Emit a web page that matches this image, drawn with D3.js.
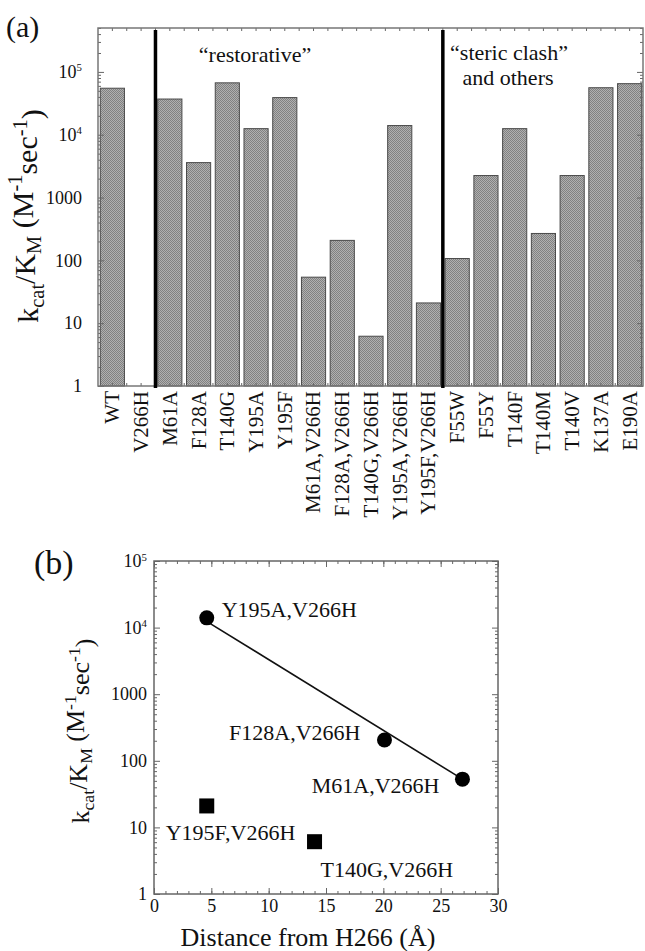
<!DOCTYPE html>
<html>
<head>
<meta charset="utf-8">
<script src="https://cdn.jsdelivr.net/npm/d3@7"></script>
<style>
    body { margin: 0; background: #fff; }
    text { font-family: "Liberation Serif", "DejaVu Serif", serif; fill: #111; }
</style>
</head>
<body>
<svg></svg>
<script>
// panel (a) data
var mutants = ["WT", "V266H", "M61A", "F128A", "T140G", "Y195A", "Y195F",
    "M61A,V266H", "F128A,V266H", "T140G,V266H", "Y195A,V266H", "Y195F,V266H",
    "F55W", "F55Y", "T140F", "T140M", "T140V", "K137A", "E190A"];
var kcatKm = [55000, null, 37000, 3600, 67000, 12500, 39000,
    54, 208, 6.2, 14000, 21,
    107, 2240, 12500, 268, 2240, 56000, 65000];
var groupStarts = ["M61A", "F55W"];
var decadesA = [1, 10, 100, 1000, 10000, 100000];

// panel (b) data
var circleNames = ["Y195A,V266H", "F128A,V266H", "M61A,V266H"];
var circleDist = [4.6, 20.1, 26.9];
var circleRate = [14000, 205, 53];
var squareNames = ["Y195F,V266H", "T140G,V266H"];
var squareDist = [4.6, 14.0];
var squareRate = [21, 6.1];
var fitDist = [4.8, 26.9];
var fitRate = [11800, 53];
var decadesB = [1, 10, 100, 1000, 10000, 100000];
var distTicks = [0, 5, 10, 15, 20, 25, 30];

var svgWidth = 645;
var svgHeight = 951;

var svg =
    d3.select("svg")
    .attr("width", svgWidth)
    .attr("height", svgHeight)
    .attr("font-family", "Liberation Serif, serif");

var defs = svg.append("defs");
var pat = defs.append("pattern")
    .attr("id", "dots")
    .attr("width", 2)
    .attr("height", 2)
    .attr("patternUnits", "userSpaceOnUse");
pat.append("rect").attr("width", 2).attr("height", 2).attr("fill", "#b0b0b0");
pat.append("rect").attr("width", 1).attr("height", 1).attr("fill", "#818181");
pat.append("rect").attr("x", 1).attr("y", 1).attr("width", 1).attr("height", 1).attr("fill", "#818181");

function minorTicks(lo, hi) {
    var out = [];
    for (var d = lo; d < hi; d *= 10)
        for (var k = 2; k <= 9; k++)
            if (d * k <= hi) out.push(d * k);
    return out;
}

function powLabels(sel) {
    sel.selectAll("text").each(function (d) {
        var p = Math.round(Math.log10(d));
        if (p >= 4) {
            var t = d3.select(this).text("10");
            t.append("tspan").attr("dy", "-0.62em").attr("font-size", "0.6em").text(p);
        }
    });
}

function styleAxis(g, size) {
    g.select(".domain").remove();
    g.selectAll(".tick line").attr("stroke", "#666").attr("stroke-width", 1);
    g.selectAll("text")
        .attr("font-family", "Liberation Serif, serif")
        .attr("font-size", size)
        .attr("fill", "#111");
}

// ---------- panel (a) ----------
var xA = d3.scaleBand().domain(mutants).range([98, 644]).paddingInner(0.16).paddingOuter(0.08);
var yA = d3.scaleLog().domain([1, 500000]).range([386, 28]);

var gA = svg.append("g");

gA.selectAll("rect.bar")
    .data(mutants.map(function (m, i) { return { name: m, v: kcatKm[i] }; }).filter(function (d) { return d.v != null; }))
    .enter().append("rect")
    .attr("class", "bar")
    .attr("x", function (d) { return xA(d.name); })
    .attr("width", xA.bandwidth())
    .attr("y", function (d) { return yA(d.v); })
    .attr("height", function (d) { return yA(1) - yA(d.v); })
    .attr("fill", "url(#dots)")
    .attr("stroke", "#4a4a4a")
    .attr("stroke-width", 1);

var halfStep = xA.step() * xA.paddingInner() / 2;
var bandTicks = [];
mutants.forEach(function (m, i) {
    bandTicks.push(xA(m) - halfStep);
    bandTicks.push(xA(m) + xA.bandwidth() / 2);
});

[[386, -3], [28, 3]].forEach(function (s) {
    gA.selectAll(null)
        .data(bandTicks.slice(1))
        .enter().append("line")
        .attr("x1", function (d) { return d; })
        .attr("x2", function (d) { return d; })
        .attr("y1", s[0])
        .attr("y2", s[0] + s[1])
        .attr("stroke", "#666");
});

gA.append("g")
    .call(d3.axisLeft(yA).tickValues(decadesA).tickSizeInner(-6).tickSizeOuter(0).tickPadding(16).tickFormat(d3.format("d")))
    .attr("transform", "translate(98,0)")
    .call(styleAxis, 18)
    .call(powLabels);
gA.append("g")
    .call(d3.axisLeft(yA).tickValues(minorTicks(1, 500000)).tickSizeInner(-3).tickSizeOuter(0).tickFormat(""))
    .attr("transform", "translate(98,0)")
    .call(styleAxis, 18);
gA.append("g")
    .call(d3.axisRight(yA).tickValues(decadesA).tickSizeInner(-6).tickSizeOuter(0).tickFormat(""))
    .attr("transform", "translate(643,0)")
    .call(styleAxis, 18);
gA.append("g")
    .call(d3.axisRight(yA).tickValues(minorTicks(1, 500000)).tickSizeInner(-3).tickSizeOuter(0).tickFormat(""))
    .attr("transform", "translate(643,0)")
    .call(styleAxis, 18);

gA.append("rect")
    .attr("x", 98).attr("y", 28)
    .attr("width", 545).attr("height", 358)
    .attr("fill", "none")
    .attr("stroke", "#777")
    .attr("stroke-width", 1.5);

gA.selectAll("line.group")
    .data(groupStarts)
    .enter().append("line")
    .attr("class", "group")
    .attr("x1", function (d) { return xA(d) - halfStep; })
    .attr("x2", function (d) { return xA(d) - halfStep; })
    .attr("y1", 30)
    .attr("y2", 388)
    .attr("stroke", "#000")
    .attr("stroke-width", 3.5);

gA.selectAll("text.cat")
    .data(mutants)
    .enter().append("text")
    .attr("class", "cat")
    .attr("transform", function (d) { return "translate(" + (xA(d) + xA.bandwidth() / 2) + ",391) rotate(-90)"; })
    .attr("text-anchor", "end")
    .attr("dy", "0.33em")
    .attr("font-size", 21)
    .text(function (d) { return d; });

gA.append("text").attr("x", 255).attr("y", 62).attr("text-anchor", "middle").attr("font-size", 22).text("\u201Crestorative\u201D");
gA.append("text").attr("x", 509).attr("y", 60).attr("text-anchor", "middle").attr("font-size", 22).text("\u201Csteric clash\u201D");
gA.append("text").attr("x", 508).attr("y", 85).attr("text-anchor", "middle").attr("font-size", 22).text("and others");

gA.append("text").attr("x", 6).attr("y", 37).attr("font-size", 30).text("(a)");

function yTitle(g, x, y, size) {
    var t = g.append("text")
        .attr("transform", "translate(" + x + "," + y + ") rotate(-90)")
        .attr("text-anchor", "middle")
        .attr("font-size", size);
    t.append("tspan").text("k");
    t.append("tspan").attr("font-size", "0.68em").attr("dy", "0.28em").text("cat");
    t.append("tspan").attr("dy", "-0.28em").text("/K");
    t.append("tspan").attr("font-size", "0.68em").attr("dy", "0.28em").text("M");
    t.append("tspan").attr("dy", "-0.28em").text(" (M");
    t.append("tspan").attr("font-size", "0.68em").attr("dy", "-0.5em").text("-1");
    t.append("tspan").attr("dy", "0.5em").text("sec");
    t.append("tspan").attr("font-size", "0.68em").attr("dy", "-0.5em").text("-1");
    t.append("tspan").attr("dy", "0.5em").text(")");
}

yTitle(gA, 38, 216, 30);

// ---------- panel (b) ----------
var xB = d3.scaleLinear().domain([0, 30]).range([154, 498]);
var yB = d3.scaleLog().domain([1, 100000]).range([894, 561]);

var gB = svg.append("g");

gB.append("g")
    .attr("transform", "translate(0,894)")
    .call(d3.axisBottom(xB).tickValues(distTicks).tickSizeInner(-6).tickSizeOuter(0).tickPadding(5))
    .call(styleAxis, 18);
gB.append("g")
    .attr("transform", "translate(0,894)")
    .call(d3.axisBottom(xB).ticks(30).tickSizeInner(-3).tickSizeOuter(0).tickFormat(""))
    .call(styleAxis, 18);
gB.append("g")
    .attr("transform", "translate(0,561)")
    .call(d3.axisTop(xB).tickValues(distTicks).tickSizeInner(-6).tickSizeOuter(0).tickFormat(""))
    .call(styleAxis, 18);
gB.append("g")
    .attr("transform", "translate(0,561)")
    .call(d3.axisTop(xB).ticks(30).tickSizeInner(-3).tickSizeOuter(0).tickFormat(""))
    .call(styleAxis, 18);

gB.append("g")
    .attr("transform", "translate(154,0)")
    .call(d3.axisLeft(yB).tickValues(decadesB).tickSizeInner(-6).tickSizeOuter(0).tickPadding(7).tickFormat(d3.format("d")))
    .call(styleAxis, 18)
    .call(powLabels);
gB.append("g")
    .attr("transform", "translate(154,0)")
    .call(d3.axisLeft(yB).tickValues(minorTicks(1, 100000)).tickSizeInner(-3).tickSizeOuter(0).tickFormat(""))
    .call(styleAxis, 18);
gB.append("g")
    .attr("transform", "translate(498,0)")
    .call(d3.axisRight(yB).tickValues(decadesB).tickSizeInner(-6).tickSizeOuter(0).tickFormat(""))
    .call(styleAxis, 18);
gB.append("g")
    .attr("transform", "translate(498,0)")
    .call(d3.axisRight(yB).tickValues(minorTicks(1, 100000)).tickSizeInner(-3).tickSizeOuter(0).tickFormat(""))
    .call(styleAxis, 18);

gB.append("rect")
    .attr("x", 154).attr("y", 561)
    .attr("width", 344).attr("height", 333)
    .attr("fill", "none")
    .attr("stroke", "#666")
    .attr("stroke-width", 1.5);

gB.append("path")
    .datum(fitDist.map(function (d, i) { return [d, fitRate[i]]; }))
    .attr("d", d3.line().x(function (d) { return xB(d[0]); }).y(function (d) { return yB(d[1]); }))
    .attr("stroke", "#111")
    .attr("stroke-width", 1.6)
    .attr("fill", "none");

gB.selectAll("circle.pt")
    .data(circleDist)
    .enter().append("circle")
    .attr("class", "pt")
    .attr("cx", function (d) { return xB(d); })
    .attr("cy", function (d, i) { return yB(circleRate[i]); })
    .attr("r", 7.5)
    .attr("fill", "#000");

gB.selectAll("rect.pt")
    .data(squareDist)
    .enter().append("rect")
    .attr("class", "pt")
    .attr("x", function (d) { return xB(d) - 7.5; })
    .attr("y", function (d, i) { return yB(squareRate[i]) - 7.5; })
    .attr("width", 15)
    .attr("height", 15)
    .attr("fill", "#000");

// label placement relative to each marker: [dx, dy, anchor]
var circleLabelPos = [[15, -1, "start"], [-24, 0, "end"], [-23, 14, "end"]];
var squareLabelPos = [[-41, 34, "start"], [6, 35, "start"]];

gB.selectAll("text.clab")
    .data(circleNames)
    .enter().append("text")
    .attr("class", "clab")
    .attr("x", function (d, i) { return xB(circleDist[i]) + circleLabelPos[i][0]; })
    .attr("y", function (d, i) { return yB(circleRate[i]) + circleLabelPos[i][1]; })
    .attr("text-anchor", function (d, i) { return circleLabelPos[i][2]; })
    .attr("font-size", 22)
    .text(function (d) { return d; });

gB.selectAll("text.slab")
    .data(squareNames)
    .enter().append("text")
    .attr("class", "slab")
    .attr("x", function (d, i) { return xB(squareDist[i]) + squareLabelPos[i][0]; })
    .attr("y", function (d, i) { return yB(squareRate[i]) + squareLabelPos[i][1]; })
    .attr("text-anchor", function (d, i) { return squareLabelPos[i][2]; })
    .attr("font-size", 22)
    .text(function (d) { return d; });

gB.append("text").attr("x", 34).attr("y", 574).attr("font-size", 34).text("(b)");

yTitle(gB, 89, 731, 26);

gB.append("text")
    .attr("x", 308).attr("y", 946)
    .attr("text-anchor", "middle")
    .attr("font-size", 26)
    .text("Distance from H266 (\u00C5)");
</script>
</body>
</html>
